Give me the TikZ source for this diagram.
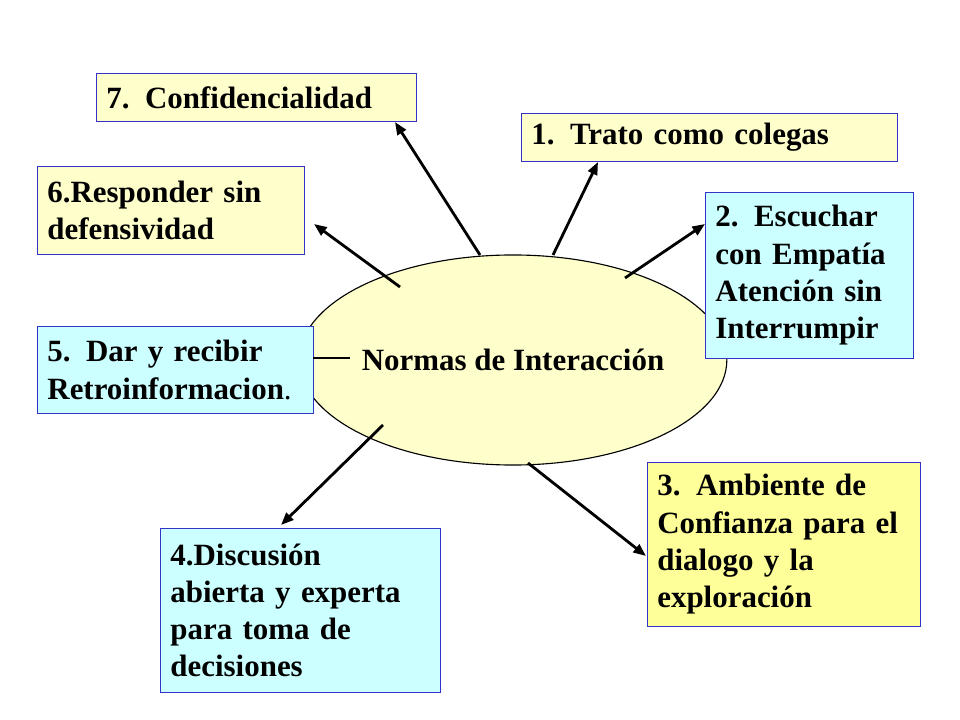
\documentclass[tikz,border=0pt]{standalone}
\usepackage{fontspec}
\setmainfont{Liberation Serif}
\usetikzlibrary{shapes.geometric,arrows.meta}
\definecolor{paleyellow}{HTML}{FFFFCC}
\definecolor{lightyellow}{HTML}{FFFF99}
\definecolor{palecyan}{HTML}{CCFFFF}
\definecolor{boxline}{HTML}{3333CC}
\tikzset{every picture/.style={>={Triangle[length=9pt,width=7pt]}},
  normbox/.style={draw=boxline,line width=0.6pt,anchor=north west,align=left,
    inner xsep=7pt,font=\fontsize{22}{26.5}\selectfont\bfseries},
  arrowline/.style={->,line width=2pt}}
\begin{document}
\begin{tikzpicture}[x=0.025cm,y=-0.025cm]
  \useasboundingbox (0,0) rectangle (960,720);
  \node (centro) [ellipse,draw,fill=paleyellow,line width=0.8pt,minimum width=8cm,minimum height=5.25cm,
    inner sep=0pt,font=\fontsize{22}{26.5}\selectfont\bfseries] at (513,360) {Normas de Interacción};
  \node (n7) [normbox,fill=paleyellow,minimum width=8cm,text width=7.5cm,minimum height=1.2cm] at (96,73) {7. Confidencialidad};
  \node (n1) [normbox,fill=paleyellow,minimum width=9.4cm,text width=8.9cm,minimum height=1.2cm] at (521,113) {1. Trato como colegas};
  \node (n6) [normbox,fill=paleyellow,minimum width=6.675cm,text width=6.18cm,minimum height=2.2cm] at (37,166) {6.Responder sin\\defensividad};
  \node (n2) [normbox,fill=palecyan,minimum width=5.2cm,text width=4.7cm,minimum height=4.15cm] at (705,192) {2. Escuchar\\con Empatía\\Atención sin\\Interrumpir};
  \node (n5) [normbox,fill=palecyan,minimum width=6.9cm,text width=6.4cm,minimum height=2.175cm] at (37,326) {5. Dar y recibir\\Retroinformacion\textmd{.}};
  \node (n3) [normbox,fill=lightyellow,minimum width=6.825cm,text width=6.33cm,minimum height=4.1cm] at (647,462) {3. Ambiente de\\Confianza para el\\dialogo y la\\exploración};
  \node (n4) [normbox,fill=palecyan,minimum width=7cm,text width=6.5cm,minimum height=4.1cm] at (160,528) {4.Discusión\\abierta y experta\\para toma de\\decisiones};
  % arrow ends
  \coordinate (a7) at (480,255); \coordinate (b7) at (395,122);
  \coordinate (a1) at (553,255); \coordinate (b1) at (598,162);
  \coordinate (a6) at (400,287); \coordinate (b6) at (314,224);
  \coordinate (a2) at (625,278); \coordinate (b2) at (705,224);
  \coordinate (a5) at (350,358); \coordinate (b5) at (313,358);
  \coordinate (a4) at (383,425); \coordinate (b4) at (281,525);
  \coordinate (a3) at (528,463); \coordinate (b3) at (646,556);
  \draw [arrowline] (a7) -- (b7);
  \draw [arrowline] (a1) -- (b1);
  \draw [arrowline] (a6) -- (b6);
  \draw [arrowline] (a2) -- (b2);
  \draw [line width=2pt] (a5) -- (b5);
  \draw [arrowline] (a4) -- (b4);
  \draw [arrowline] (a3) -- (b3);
\end{tikzpicture}
\end{document}
